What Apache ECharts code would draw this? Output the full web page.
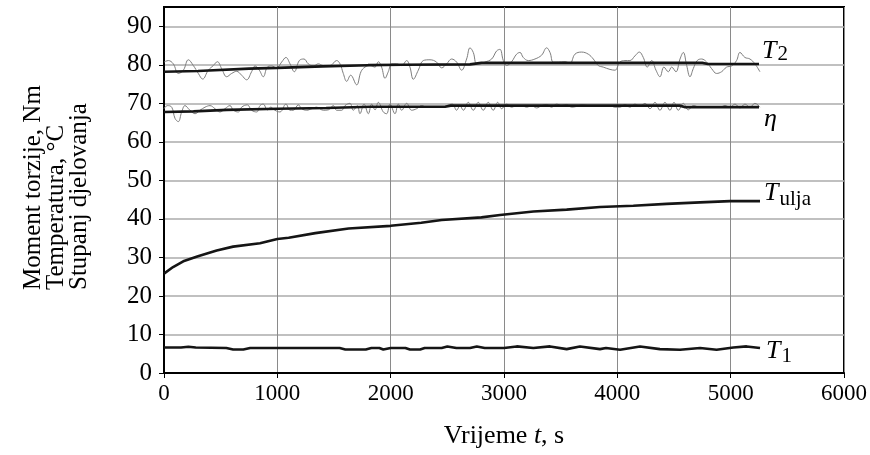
<!DOCTYPE html>
<html>
<head>
<meta charset="utf-8">
<script src="https://cdn.jsdelivr.net/npm/echarts@6/dist/echarts.min.js"></script>
<style>html,body{margin:0;padding:0;background:#fff}#c{width:870px;height:455px}</style>
</head>
<body>
<div id="c"></div>
<script>
const FF = '"Liberation Serif", "Times New Roman", serif';
const yTicks = [0, 10, 20, 30, 40, 50, 60, 70, 80, 90];

// T2 raw (gray) signal
const tT2g = [0,38,82,126,171,215,259,303,341,391,435,471,509,553,597,641,685,729,773,803,841,876,912,950,994,1038,1076,1112,1150,1194,1235,1273,1318,1362,1406,1465,1523,1553,1582,1612,1647,1700,1738,1773,1818,1862,1891,1920,1950,1979,2009,2053,2097,2141,2170,2200,2244,2288,2347,2405,2450,2494,2538,2582,2626,2670,2700,2729,2758,2788,2832,2891,2935,2964,2994,3023,3067,3111,3141,3170,3214,3273,3332,3376,3406,3435,3479,3538,3582,3626,3685,3744,3788,3832,3876,3935,3979,4023,4067,4111,4155,4194,4229,4264,4303,4341,4376,4411,4450,4479,4517,4553,4582,4612,4641,4670,4705,4744,4788,4832,4876,4920,4964,5008,5052,5082,5126,5170,5214,5258];
const vT2g = [80.7,81.1,80.25,77.75,78.6,81.3,79.8,77.75,76.3,78.6,79.8,80.8,79.0,76.9,77.75,78.3,77.3,76.1,78.2,79.7,78.6,76.9,79.4,79.7,79.2,80.7,81.9,80.25,78.2,81.1,81.5,80.25,79.7,80.25,79.8,79.8,81.1,80.25,77.75,75.7,77.3,74.8,78.2,79.4,79.8,79.4,80.8,79.4,76.5,78.2,80.25,80.25,79.8,81.1,79.4,76.25,78.6,81.1,81.3,80.7,79.2,80.25,81.5,80.7,78.6,81.5,84.4,83.2,80.25,80.25,80.7,81.5,83.6,84.0,81.1,79.8,80.8,82.75,83.2,81.9,81.1,81.5,82.5,84.4,83.2,80.7,80.7,80.8,80.4,82.75,83.3,82.75,81.5,79.8,79.4,78.8,78.6,80.7,81.1,81.1,82.3,83.3,81.9,79.4,81.1,78.6,76.9,79.4,78.2,79.4,78.2,81.5,83.2,79.8,76.9,79.0,81.1,81.5,80.7,79.0,77.75,78.2,79.4,79.7,81.1,83.2,81.9,81.5,80.25,78.2];

// T2 smoothed (black)
const tT2 = [0,300,750,1000,1400,1800,2100,2700,2800,4750,4800,5250];
const vT2 = [78.2,78.4,79.0,79.2,79.6,79.9,80.0,80.1,80.5,80.5,80.2,80.2];

// eta raw (gray)
const tEtag = [0,29,68,97,126,156,185,229,274,318,362,406,450,494,538,582,612,656,685,735,773,818,847,876,912,941,979,1023,1076,1112,1141,1185,1215,1259,1303,1347,1406,1450,1494,1523,1568,1597,1641,1670,1706,1729,1765,1803,1832,1862,1891,1935,1964,1994,2038,2067,2097,2141,2185,2229,2273,2317,2361,2405,2450,2494,2544,2582,2611,2641,2685,2729,2773,2817,2861,2905,2944,2979,3023,3067,3111,3155,3200,3244,3288,3332,3376,3420,3464,3508,3552,3597,3641,3685,3744,3817,3876,3935,3979,4023,4067,4111,4155,4200,4244,4288,4332,4376,4420,4464,4500,4538,4582,4626,4670,4729,4788,4847,4905,4950,4994,5038,5082,5126,5170,5214,5258];
const vEtag = [68.6,69.4,69.0,66.1,65.25,67.75,69.4,68.2,67.3,68.2,69.0,69.4,68.6,67.75,68.6,69.4,68.2,67.75,69.0,69.6,68.2,67.75,69.4,69.8,68.3,69.0,68.2,67.75,69.8,68.2,68.2,69.6,68.6,68.2,68.6,69.0,68.2,68.3,69.4,68.2,68.2,69.4,70.0,68.2,69.4,67.3,69.8,67.3,69.8,68.3,70.25,67.75,67.3,69.8,67.3,69.8,68.2,70.0,68.2,68.6,69.4,69.0,69.0,69.0,69.0,69.4,69.8,68.2,69.4,68.2,70.25,68.2,70.25,68.2,70.25,68.2,70.25,68.6,69.8,69.0,69.4,69.4,69.0,69.4,68.8,69.4,69.7,69.0,69.8,69.4,69.7,69.0,69.2,69.6,69.4,69.2,69.4,69.4,69.0,69.0,69.7,69.0,69.8,69.2,70.0,68.6,70.25,68.2,70.25,68.2,70.25,68.2,70.0,68.3,69.4,69.0,69.0,69.0,69.0,69.4,69.0,69.8,68.8,69.8,69.0,70.0,69.0];

// eta smoothed (black)
const tEta = [0,260,553,1000,1430,1818,2480,2530,4550,4600,5250];
const vEta = [67.75,67.9,68.3,68.6,68.8,69.1,69.1,69.4,69.4,69.0,69.0];

// T ulja
const tUlja = [0,80,170,300,465,610,847,1000,1100,1335,1629,2000,2270,2450,2800,2965,3259,3553,3847,4141,4435,4730,4994,5259];
const vUlja = [25.8,27.5,29.0,30.3,31.8,32.8,33.7,34.8,35.1,36.3,37.5,38.2,39.0,39.7,40.4,41.0,41.9,42.4,43.1,43.4,43.9,44.3,44.6,44.6];

// T1
const tT1 = [0,150,215,280,550,610,700,760,1550,1600,1780,1830,1900,1935,2000,2130,2170,2260,2300,2450,2500,2580,2700,2760,2830,3000,3112,3259,3406,3553,3670,3847,3900,4024,4200,4376,4553,4730,4876,5024,5141,5259];
const vT1 = [6.6,6.6,6.8,6.6,6.5,6.1,6.1,6.5,6.5,6.1,6.1,6.5,6.5,6.1,6.5,6.5,6.1,6.1,6.5,6.5,6.9,6.5,6.5,6.9,6.5,6.5,6.9,6.5,6.9,6.2,6.9,6.2,6.5,6.05,6.9,6.2,6.05,6.5,6.05,6.6,6.9,6.5];

const pairs = (t, v) => t.map((x, i) => [x, v[i]]);

const labT = { fontFamily: FF, fontStyle: 'italic', fontSize: 26, color: '#000' };
const labS = (pad) => ({ fontFamily: FF, fontSize: 21, color: '#000', padding: [pad, 0, 0, 1] });

const chart = echarts.init(document.getElementById('c'), null, { renderer: 'canvas' });
const gray = { color: '#7d7d7d', width: 1 };
const black = { color: '#151515', width: 2.6 };

chart.setOption({
  animation: false,
  backgroundColor: '#fff',
  grid: { left: 164, right: 26, top: 7, bottom: 82, show: true, borderColor: '#000', borderWidth: 2, backgroundColor: 'transparent' },
  xAxis: {
    type: 'value', min: 0, max: 6000, interval: 1000,
    axisLine: { lineStyle: { color: '#000', width: 2 } },
    axisTick: { show: true, inside: false, length: 5, lineStyle: { color: '#000', width: 1 } },
    axisLabel: { color: '#000', fontFamily: FF, fontSize: 23, margin: 9, formatter: v => String(v) },
    splitLine: { show: true, lineStyle: { color: '#8a8a8a', width: 1 } },
    name: '{n|Vrijeme }{i|t}{n|, s}',
    nameLocation: 'middle', nameGap: 50,
    nameTextStyle: { rich: {
      n: { fontFamily: FF, fontSize: 26, color: '#000' },
      i: { fontFamily: FF, fontSize: 26, fontStyle: 'italic', color: '#000' }
    } }
  },
  yAxis: {
    type: 'value', min: 0, max: 95, interval: 10,
    axisLine: { show: true, lineStyle: { color: '#000', width: 2 } },
    axisTick: { show: true, inside: false, length: 5, customValues: yTicks, lineStyle: { color: '#000', width: 1 } },
    axisLabel: { color: '#000', fontFamily: FF, fontSize: 25, margin: 12, customValues: yTicks,
      formatter: v => (v > 90 ? '' : String(v)) },
    splitLine: { show: true, lineStyle: { color: '#ababab', width: 1.5 } }
  },
  graphic: [{
    type: 'text', x: 56, y: 290, rotation: Math.PI / 2,
    style: { text: 'Moment torzije, Nm\nTemperatura, °C\nStupanj djelovanja',
      fontFamily: FF, fontSize: 25, lineHeight: 23, fill: '#000', align: 'left', verticalAlign: 'middle' }
  }],
  series: [
    { type: 'line', name: 'T2 raw', data: pairs(tT2g, vT2g), symbol: 'none', smooth: 0.4, lineStyle: gray, z: 2 },
    { type: 'line', name: 'eta raw', data: pairs(tEtag, vEtag), symbol: 'none', smooth: 0.4, lineStyle: gray, z: 2 },
    { type: 'line', name: 'T2', data: pairs(tT2, vT2), symbol: 'none', lineStyle: black, z: 3,
      endLabel: { show: true, formatter: '{t|T}{s|2}', distance: 3, offset: [0, -13], rich: { t: labT, s: labS(6) } } },
    { type: 'line', name: 'eta', data: pairs(tEta, vEta), symbol: 'none', lineStyle: black, z: 3,
      endLabel: { show: true, formatter: '{e|η}', distance: 5, offset: [0, 12], rich: { e: labT } } },
    { type: 'line', name: 'Tulja', data: pairs(tUlja, vUlja), symbol: 'none', lineStyle: black, z: 3,
      endLabel: { show: true, formatter: '{t|T}{s|ulja}', distance: 4, offset: [0, -8], rich: { t: labT, s: labS(12) } } },
    { type: 'line', name: 'T1', data: pairs(tT1, vT1), symbol: 'none', lineStyle: black, z: 3,
      endLabel: { show: true, formatter: '{t|T}{s|1}', distance: 6, offset: [0, 3], rich: { t: labT, s: labS(12) } } }
  ]
});
</script>
</body>
</html>
